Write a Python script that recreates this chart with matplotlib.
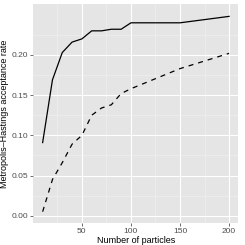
import matplotlib
matplotlib.use("Agg")
import matplotlib.pyplot as plt
from matplotlib.ticker import FixedLocator

particles = [10, 20, 30, 40, 50, 60, 70, 80, 90, 100, 150, 200]
rate_solid = [0.091, 0.169, 0.203, 0.216, 0.220, 0.230, 0.230, 0.232, 0.232, 0.240, 0.240, 0.248]
rate_dashed = [0.005, 0.045, 0.066, 0.089, 0.100, 0.125, 0.134, 0.138, 0.152, 0.158, 0.183, 0.202]
x_ticks = [50, 100, 150, 200]
x_minor = [25, 75, 125, 175]
y_ticks = [0.00, 0.05, 0.10, 0.15, 0.20]
y_minor = [0.025, 0.075, 0.125, 0.175, 0.225]

plt.rcParams['font.family'] = ['Liberation Sans', 'DejaVu Sans']

fig = plt.figure(figsize=(2.45, 2.45), dpi=100)
ax = fig.add_axes([0.136, 0.091, 0.837, 0.893])
ax.set_facecolor('#E5E5E5')
for s in ax.spines.values():
    s.set_visible(False)

ax.set_xlim(0.5, 209.5)
ax.set_ylim(-0.0087, 0.2635)
ax.xaxis.set_major_locator(FixedLocator(x_ticks))
ax.xaxis.set_minor_locator(FixedLocator(x_minor))
ax.yaxis.set_major_locator(FixedLocator(y_ticks))
ax.yaxis.set_minor_locator(FixedLocator(y_minor))
ax.set_yticklabels([f"{v:.2f}" for v in y_ticks])
ax.grid(which='major', color='white', linewidth=0.8)
ax.grid(which='minor', color='#F2F2F2', linewidth=0.4)
ax.set_axisbelow(True)
ax.tick_params(which='major', length=2, width=0.5, color='#333333', labelsize=6, labelcolor='#4D4D4D', pad=1.5)
ax.tick_params(which='minor', length=0)

ax.plot(particles, rate_solid, color='black', linewidth=0.9, linestyle='-')
ax.plot(particles, rate_dashed, color='black', linewidth=0.9, linestyle=(0, (4, 4)))

ax.set_xlabel('Number of particles', fontsize=6.5, labelpad=1)
ax.set_ylabel('Metropolis–Hastings acceptance rate', fontsize=6.5, labelpad=2)

fig.savefig('out.png', dpi=100)
